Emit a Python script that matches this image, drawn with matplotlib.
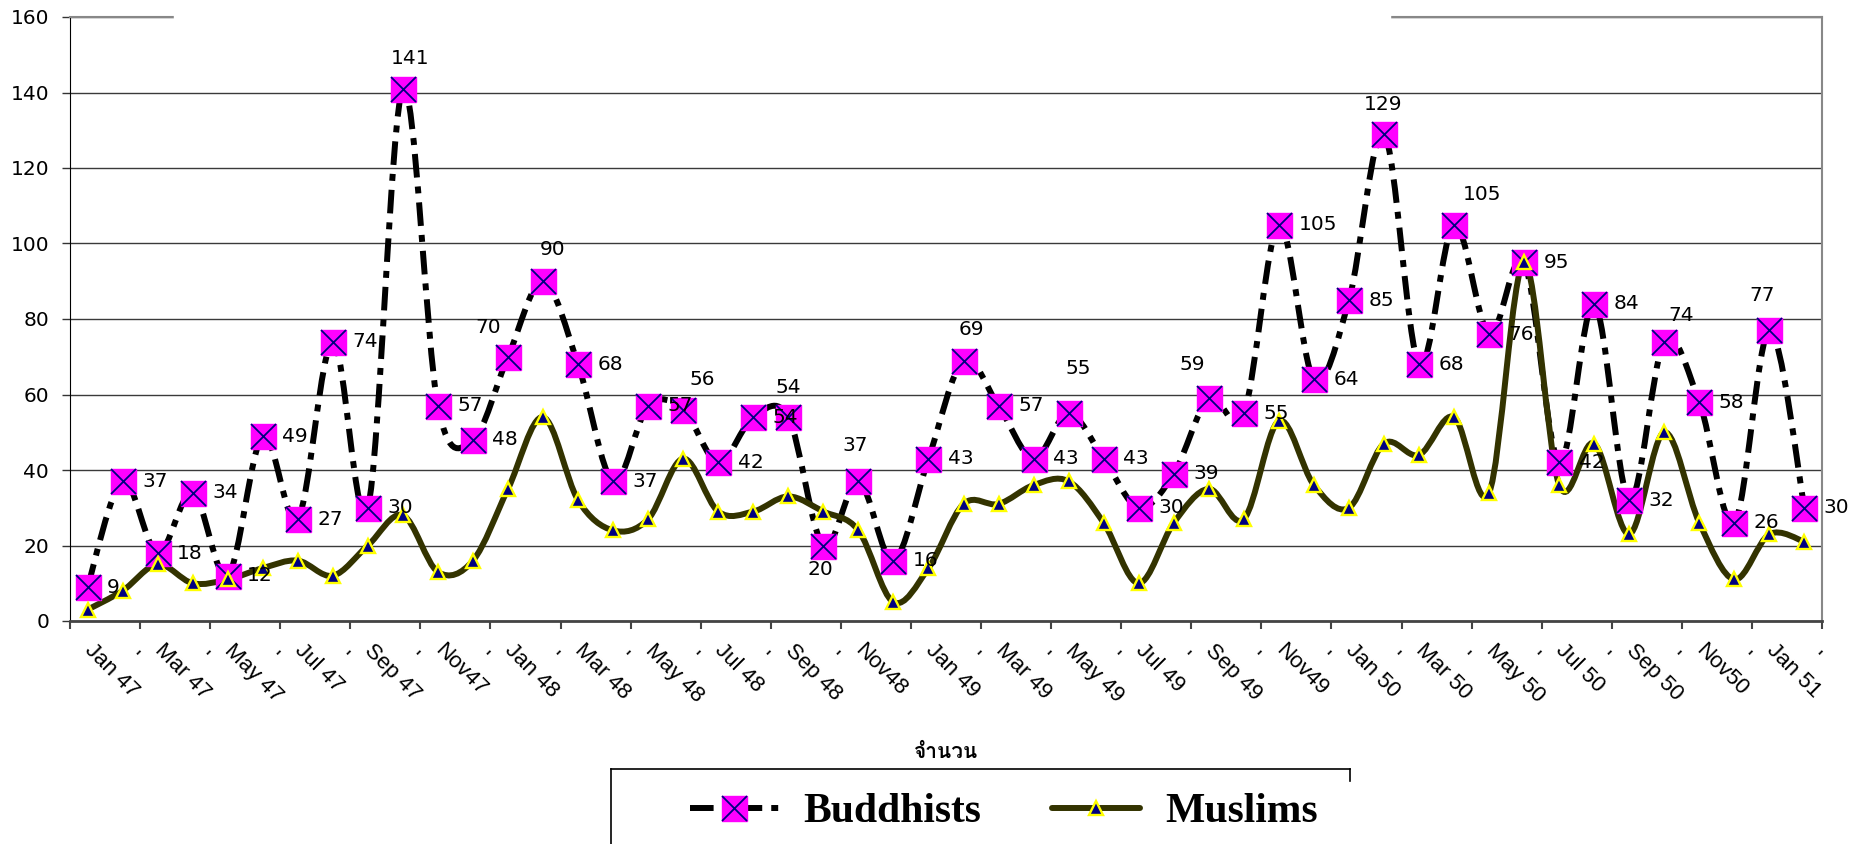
import matplotlib
matplotlib.use('Agg')
import matplotlib.pyplot as plt
from matplotlib import font_manager
from matplotlib.ft2font import FT2Font
from matplotlib.path import Path
from matplotlib.patches import PathPatch
from matplotlib.lines import Line2D
from matplotlib.legend_handler import HandlerTuple

## Data
buddhists = [9, 37, 18, 34, 12, 49, 27, 74, 30, 141,
             57, 48, 70, 90, 68, 37, 57, 56, 42, 54,
             54, 20, 37, 16, 43, 69, 57, 43, 55, 43,
             30, 39, 59, 55, 105, 64, 85, 129, 68, 105,
             76, 95, 42, 84, 32, 74, 58, 26, 77, 30]
muslims = [3, 8, 15, 10, 11, 14, 16, 12, 20, 28,
           13, 16, 35, 54, 32, 24, 27, 43, 29, 29,
           33, 29, 24, 5, 14, 31, 31, 36, 37, 26,
           10, 26, 35, 27, 53, 36, 30, 47, 44, 54,
           34, 95, 36, 47, 23, 50, 26, 11, 23, 21]
month_labels = ['Jan 47', 'Mar 47', 'May 47', 'Jul 47', 'Sep 47', 'Nov47',
                'Jan 48', 'Mar 48', 'May 48', 'Jul 48', 'Sep 48', 'Nov48',
                'Jan 49', 'Mar 49', 'May 49', 'Jul 49', 'Sep 49', 'Nov49',
                'Jan 50', 'Mar 50', 'May 50', 'Jul 50', 'Sep 50', 'Nov50',
                'Jan 51']
odd_label = "  '"
series_names = ['Buddhists', 'Muslims']
x_title = 'จำนวน'

# data label placement: default is right of the marker, these are moved (offset in points)
label_moves = {9: (5, 22), 12: (-14, 21), 13: (7, 23), 17: (14, 22), 20: (0, 21),
               21: (-2, -17), 22: (-2, 26), 25: (6, 22), 28: (7, 32), 32: (-12, 24),
               37: (-1, 21), 39: (20, 22), 45: (12, 19), 48: (-5, 25)}

plt.rcParams['lines.scale_dashes'] = False

# look for an installed family with thai glyphs
thai_fonts = []
for f in font_manager.fontManager.ttflist:
    try:
        ft = FT2Font(f.fname)
        if all(ft.get_char_index(ord(c)) for c in x_title) and f.name not in thai_fonts:
            thai_fonts.append(f.name)
    except Exception:
        pass
thai_fonts = thai_fonts + ['DejaVu Sans']


def smooth_path(ys):
    # excel style smoothed line (bezier through every point)
    n = len(ys)
    verts = [(0, ys[0])]
    codes = [Path.MOVETO]
    for i in range(n - 1):
        p0 = (i - 1, ys[i - 1]) if i > 0 else (i, ys[i])
        p1 = (i, ys[i])
        p2 = (i + 1, ys[i + 1])
        p3 = (i + 2, ys[i + 2]) if i + 2 < n else p2
        c1 = (p1[0] + (p2[0] - p0[0]) / 6, p1[1] + (p2[1] - p0[1]) / 6)
        c2 = (p2[0] - (p3[0] - p1[0]) / 6, p2[1] - (p3[1] - p1[1]) / 6)
        verts += [c1, c2, p2]
        codes += [Path.CURVE4] * 3
    return Path(verts, codes)


x = list(range(len(buddhists)))
dash = (0, (17, 6.5, 5, 6.5))

fig = plt.figure(figsize=(18.62, 8.44), dpi=100)
ax = fig.add_axes([70 / 1862, 1 - 621 / 844, 1752 / 1862, 604 / 844])

ax.add_patch(PathPatch(smooth_path(buddhists), fill=False, edgecolor='black', lw=4.3,
                       linestyle=dash, zorder=2))
ax.add_patch(PathPatch(smooth_path(muslims), fill=False, edgecolor='#333300', lw=4.3,
                       capstyle='round', zorder=3))
ax.plot(x, buddhists, 's', ms=18, mfc='#ff00ff', mec='#ff00ff', zorder=4)
ax.plot(x, buddhists, 'x', ms=18, mec='#000080', mew=1.3, zorder=4.1)
ax.plot(x, muslims, '^', ms=10, mfc='#000080', mec='#ffff00', mew=1.7, zorder=5)

for i, v in enumerate(buddhists):
    if i in label_moves:
        ax.annotate(str(v), (i, v), xytext=label_moves[i], textcoords='offset points',
                    ha='center', va='center', fontsize=14.5, zorder=6)
    else:
        ax.annotate(str(v), (i, v), xytext=(14, 0), textcoords='offset points',
                    ha='left', va='center', fontsize=14.5, zorder=6)

ax.set_xlim(-0.5, len(x) - 0.5)
ax.set_ylim(0, 160)
ax.set_yticks(range(0, 161, 20))
ax.tick_params(axis='y', length=6, width=1, pad=9, labelsize=14.5, color='#333333')
ax.grid(axis='y', color='#3a3a3a', lw=1)
ax.set_axisbelow(True)

tick_labels = []
for lab in month_labels:
    tick_labels += [lab, odd_label]
ax.set_xticks(x)
ax.set_xticklabels(tick_labels[:len(x)], rotation=-45, ha='left', va='center',
                   rotation_mode='anchor', fontsize=16, family='Liberation Sans')
ax.set_xticks([k - 0.5 for k in range(0, len(x) + 1, 2)], minor=True)
ax.tick_params(axis='x', which='major', length=0, pad=19)
ax.tick_params(axis='x', which='minor', length=6, width=1.5, color='#444444')

ax.set_xlabel(x_title, fontsize=15, fontweight='bold', family=thai_fonts, labelpad=26)

for side in ['top', 'right']:
    ax.spines[side].set_color('#888888')
    ax.spines[side].set_linewidth(1.5)
ax.spines['left'].set_color('black')
ax.spines['bottom'].set_color('#444444')
ax.spines['bottom'].set_linewidth(2)

# white box behind the (cut off) title
fig.patches.append(plt.Rectangle((174 / 1862, 1 - 30 / 844), (1390 - 174) / 1862, 30 / 844,
                                 transform=fig.transFigure, color='white', zorder=1))

# legend
b_line = Line2D([], [], color='black', lw=4.3, linestyle=dash, marker='s', ms=18,
                mfc='#ff00ff', mec='#ff00ff')
b_x = Line2D([], [], lw=0, marker='x', ms=18, mec='#000080', mew=1.3)
m_line = Line2D([], [], color='#333300', lw=4.3, solid_capstyle='round', marker='^', ms=10,
                mfc='#000080', mec='#ffff00', mew=1.7)
fig.legend([(b_line, b_x), m_line], series_names, handler_map={tuple: HandlerTuple(ndivide=1)},
           loc='center left', bbox_to_anchor=(690 / 1862, 1 - 812 / 844), ncol=2, frameon=False,
           borderpad=0, borderaxespad=0, handlelength=2.13, handletextpad=0.6,
           columnspacing=1.68, numpoints=1,
           prop={'family': 'Liberation Serif', 'weight': 'bold', 'size': 30})
for xs, ys in [([611, 1350], [769, 769]), ([611, 611], [769, 850]), ([1350, 1350], [769, 781])]:
    fig.add_artist(Line2D([v / 1862 for v in xs], [1 - v / 844 for v in ys], color='black',
                          lw=1.2, transform=fig.transFigure))

fig.savefig('out.png', dpi=100)
